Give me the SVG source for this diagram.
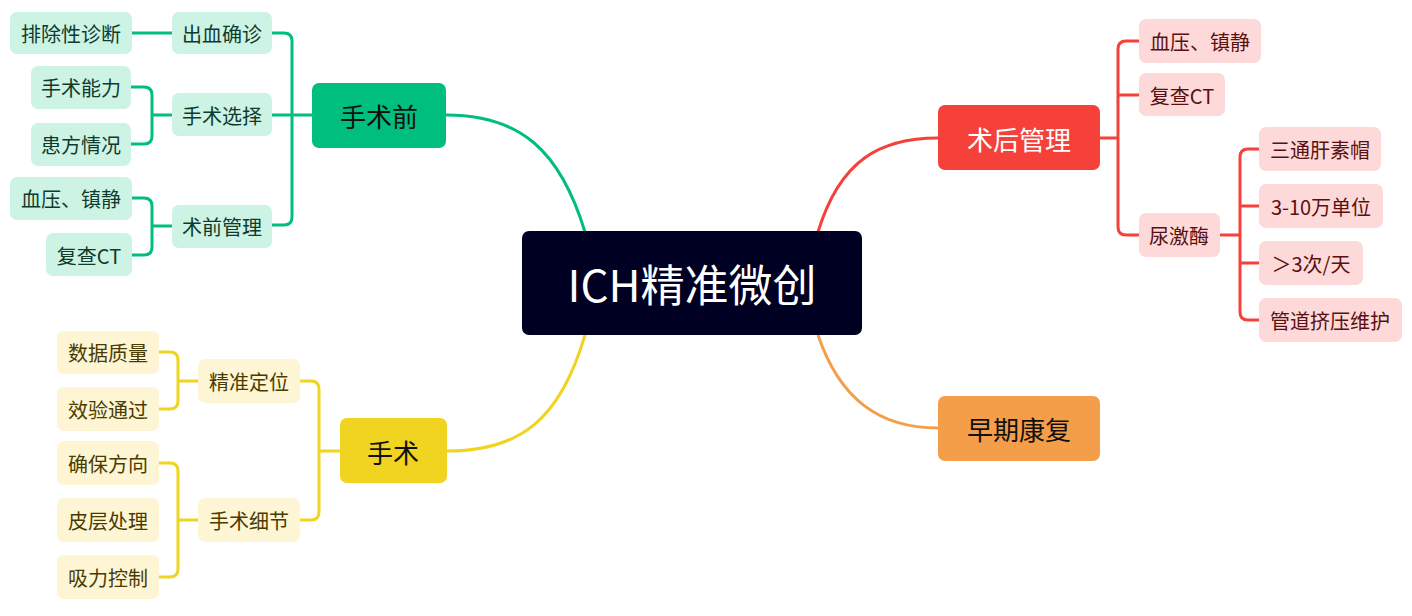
<svg xmlns="http://www.w3.org/2000/svg" width="1412" height="616" viewBox="0 0 1412 616">
<style>
text{font-family:"Noto Sans CJK SC","Noto Sans",sans-serif;text-anchor:middle;dominant-baseline:central}
.m{font-size:26px}.s{font-size:20px}
.g{fill:#CDF3E4}.gt{fill:#0E3B2C}
.y{fill:#FDF5D3}.yt{fill:#4A3C00}
.r{fill:#FDDAD9}.rt{fill:#5A1010}
path{fill:none;stroke-width:3}
</style>
<rect width="1412" height="616" fill="#fff"/>
<g id="connectors">
<path d="M585,232 C560,150 520,115 446,115" stroke="#00BE7D" stroke-width="4"/>
<path d="M585,335 C560,420 520,451 447,451" stroke="#F0D420" stroke-width="4"/>
<path d="M818,232 C840,160 880,138 938,138" stroke="#F5413A" stroke-width="4"/>
<path d="M818,335 C840,400 880,428 938,428" stroke="#F59E4A" stroke-width="4"/>
<g stroke="#00BE7D">
<path d="M272,33 H284 Q292,33 292,41 V217 Q292,225 284,225 H272 M272,115 H312"/>
<path d="M132,33 H172"/>
<path d="M131,87 H144 Q152,87 152,95 V136 Q152,144 144,144 H131 M152,115 H172"/>
<path d="M132,198 H144 Q152,198 152,206 V247 Q152,255 144,255 H132 M152,226 H172"/>
</g>
<g stroke="#F0D420">
<path d="M300,381 H311 Q319,381 319,389 V512 Q319,520 311,520 H300 M319,451 H340"/>
<path d="M159,352 H170 Q178,352 178,360 V401 Q178,409 170,409 H159 M178,381 H198"/>
<path d="M159,463 H170 Q178,463 178,471 V569 Q178,577 170,577 H159 M178,520 H198"/>
</g>
<g stroke="#F5413A">
<path d="M1139,41 H1126 Q1118,41 1118,49 V227 Q1118,235 1126,235 H1139 M1118,95 H1139 M1100,138 H1118"/>
<path d="M1259,149 H1248 Q1240,149 1240,157 V312 Q1240,320 1248,320 H1259 M1240,206 H1259 M1240,263 H1259 M1220,235 H1240"/>
</g>
</g>
<g id="center"><rect x="522" y="231" width="340" height="104" rx="7" fill="#000022"/><text x="692" y="283" fill="#fff" font-size="44">ICH精准微创</text></g>
<g id="n-pre"><rect x="312" y="83" width="134" height="65" rx="7" fill="#00BE7D"/><text class="m" x="379" y="115" fill="#111">手术前</text></g>
<g id="n-op"><rect x="340" y="418" width="107" height="65" rx="7" fill="#F0D420"/><text class="m" x="393" y="451" fill="#111">手术</text></g>
<g id="n-post"><rect x="938" y="105" width="162" height="65" rx="7" fill="#F5413A"/><text class="m" x="1019" y="138" fill="#fff">术后管理</text></g>
<g id="n-rehab"><rect x="938" y="396" width="162" height="65" rx="7" fill="#F59E4A"/><text class="m" x="1019" y="428" fill="#111">早期康复</text></g>
<g id="n1"><rect class="g" x="172" y="12" width="100" height="42" rx="7"/><text class="s gt" x="222" y="33">出血确诊</text></g>
<g id="n2"><rect class="g" x="172" y="93" width="100" height="43" rx="7"/><text class="s gt" x="222" y="115">手术选择</text></g>
<g id="n3"><rect class="g" x="172" y="205" width="100" height="43" rx="7"/><text class="s gt" x="222" y="226">术前管理</text></g>
<g id="n4"><rect class="g" x="10" y="12" width="122" height="42" rx="7"/><text class="s gt" x="71" y="33">排除性诊断</text></g>
<g id="n5"><rect class="g" x="31" y="66" width="100" height="43" rx="7"/><text class="s gt" x="81" y="87">手术能力</text></g>
<g id="n6"><rect class="g" x="31" y="123" width="100" height="43" rx="7"/><text class="s gt" x="81" y="144">患方情况</text></g>
<g id="n7"><rect class="g" x="10" y="177" width="122" height="43" rx="7"/><text class="s gt" x="71" y="198">血压、镇静</text></g>
<g id="n8"><rect class="g" x="46" y="233" width="86" height="43" rx="7"/><text class="s gt" x="89" y="255">复查CT</text></g>
<g id="n9"><rect class="y" x="198" y="359" width="102" height="44" rx="7"/><text class="s yt" x="249" y="381">精准定位</text></g>
<g id="n10"><rect class="y" x="198" y="498" width="102" height="44" rx="7"/><text class="s yt" x="249" y="520">手术细节</text></g>
<g id="n11"><rect class="y" x="57" y="331" width="102" height="43" rx="7"/><text class="s yt" x="108" y="352">数据质量</text></g>
<g id="n12"><rect class="y" x="57" y="387" width="102" height="44" rx="7"/><text class="s yt" x="108" y="409">效验通过</text></g>
<g id="n13"><rect class="y" x="57" y="441" width="102" height="44" rx="7"/><text class="s yt" x="108" y="463">确保方向</text></g>
<g id="n14"><rect class="y" x="57" y="498" width="102" height="44" rx="7"/><text class="s yt" x="108" y="520">皮层处理</text></g>
<g id="n15"><rect class="y" x="57" y="555" width="102" height="44" rx="7"/><text class="s yt" x="108" y="577">吸力控制</text></g>
<g id="n16"><rect class="r" x="1139" y="19" width="122" height="44" rx="7"/><text class="s rt" x="1200" y="41">血压、镇静</text></g>
<g id="n17"><rect class="r" x="1139" y="73" width="86" height="43" rx="7"/><text class="s rt" x="1182" y="95">复查CT</text></g>
<g id="n18"><rect class="r" x="1139" y="213" width="81" height="44" rx="7"/><text class="s rt" x="1179" y="235">尿激酶</text></g>
<g id="n19"><rect class="r" x="1259" y="127" width="122" height="44" rx="7"/><text class="s rt" x="1320" y="149">三通肝素帽</text></g>
<g id="n20"><rect class="r" x="1259" y="184" width="124" height="44" rx="7"/><text class="s rt" x="1321" y="206">3-10万单位</text></g>
<g id="n21"><rect class="r" x="1259" y="241" width="104" height="44" rx="7"/><text class="s rt" x="1311" y="263">＞3次/天</text></g>
<g id="n22"><rect class="r" x="1259" y="298" width="143" height="44" rx="7"/><text class="s rt" x="1330" y="320">管道挤压维护</text></g>
</svg>
